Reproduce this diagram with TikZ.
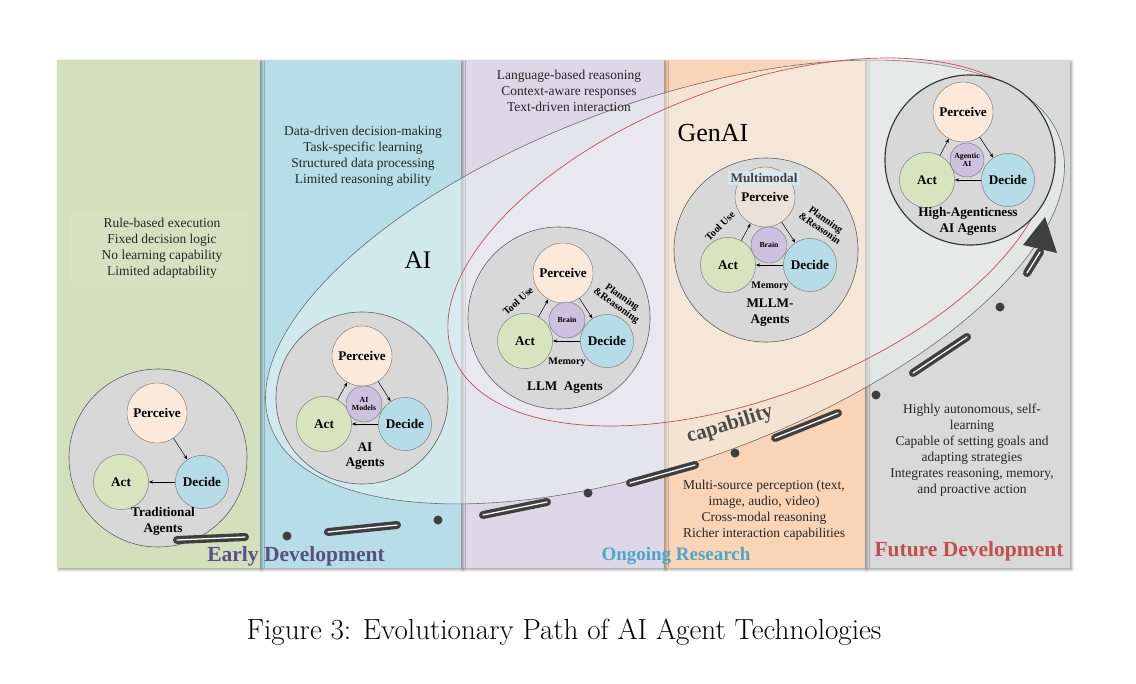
\documentclass[tikz,border=0pt]{standalone}
\usepackage{fontspec}
\newfontfamily\tnr{Liberation Serif}
\usetikzlibrary{arrows.meta,shadows.blur}

\definecolor{earlygreen}{HTML}{D4DFBC}
\definecolor{earlyblue}{HTML}{B7DEE8}
\definecolor{llmpurple}{HTML}{DDD7E7}
\definecolor{mllmorange}{HTML}{FAD4B6}
\definecolor{futuregrey}{HTML}{D9D9D9}
\definecolor{aifill}{HTML}{EEF7F4}
\definecolor{agentgrey}{HTML}{D8D8D8}
\definecolor{perceivecol}{HTML}{FDE9DA}
\definecolor{actcol}{HTML}{D7E4BD}
\definecolor{decidecol}{HTML}{B6DCE8}
\definecolor{braincol}{HTML}{CCC1DF}
\definecolor{modalblue}{HTML}{D4EDF5}
\definecolor{pathgrey}{HTML}{3F3F3F}
\definecolor{earlytxt}{HTML}{5A4E82}
\definecolor{ongoingtxt}{HTML}{4BA7C9}
\definecolor{futuretxt}{HTML}{C0504D}

\tikzset{
  panel/.style={blur shadow={shadow xshift=1.2pt, shadow yshift=-1.2pt, shadow blur radius=2pt, shadow opacity=40}},
  note/.style={align=center, text=black!85, font=\tnr\fontsize{9.6}{11.4}\selectfont},
  agentbg/.style={circle, draw=black!65, fill=agentgrey, line width=0.4pt, inner sep=0pt},
  stage/.style={circle, draw=black!55, line width=0.3pt, inner sep=0pt, font=\tnr\bfseries\fontsize{9.4}{10}\selectfont},
  perceive/.style={stage, fill=perceivecol, minimum size=1.5cm},
  act/.style={stage, fill=actcol, minimum size=1.38cm},
  decide/.style={stage, fill=decidecol, minimum size=1.33cm},
  core/.style={stage, fill=braincol, minimum size=0.9cm, align=center, font=\tnr\bfseries\fontsize{5.5}{6}\selectfont},
  agentname/.style={align=center, font=\tnr\bfseries\fontsize{9.4}{11.2}\selectfont},
  edgetxt/.style={align=center, inner sep=1pt, font=\tnr\bfseries\fontsize{7.2}{7.4}\selectfont},
  flow/.style={-{Stealth[length=3.2pt,width=2.4pt]}, line width=0.35pt},
  capdash/.style={draw=pathgrey, line width=2.4pt, double=white, double distance=0.9pt, line cap=round},
  era/.style={font=\tnr\bfseries\fontsize{15.3}{16}\selectfont},
}

\begin{document}
\begin{tikzpicture}[x=0.025cm, y=-0.025cm]
\useasboundingbox (0,0) rectangle (1136,683);

% columns (right to left, so every shadow falls on the next one)
\fill[panel, futuregrey] (865,60) rectangle (1070,568);
\fill[panel, mllmorange] (664,60) rectangle (865,568);
\fill[panel, llmpurple] (461,60) rectangle (664,568);
\fill[panel, earlyblue] (260,60) rectangle (461,568);
\fill[panel, earlygreen] (57,60) rectangle (260,568);

% AI and GenAI regions
\filldraw[rotate around={20:(665,282)}, fill=aifill, fill opacity=0.45, draw=black!60, line width=0.4pt]
  (665,282) ellipse [x radius=420, y radius=180];
\filldraw[rotate around={21:(749,242)}, fill=white, fill opacity=0.15, draw=futuretxt, line width=0.5pt]
  (749,242) ellipse [x radius=317, y radius=155];
\node[font=\tnr\fontsize{18}{20}\selectfont] (ai) at (418,260) {AI};
\node[font=\tnr\fontsize{18.5}{20}\selectfont] (genai) at (713,133) {GenAI};

% notes
\fill[white, opacity=0.08] (70,212) rectangle (247,287);
\node[note] (rules) at (162,248) {Rule-based execution\\Fixed decision logic\\No learning capability\\Limited adaptability};
\node[note] (data) at (363,156) {Data-driven decision-making\\Task-specific learning\\Structured data processing\\Limited reasoning ability};
\node[note] (lang) at (569,91) {Language-based reasoning\\Context-aware responses\\Text-driven interaction};
\node[note] (multi) at (764,510) {Multi-source perception (text,\\image, audio, video)\\Cross-modal reasoning\\Richer interaction capabilities};
\node[note] (auto) at (972,450) {Highly autonomous, self-\\learning\\Capable of setting goals and\\adapting strategies\\Integrates reasoning, memory,\\and proactive action};

% traditional agents
\node[agentbg, minimum size=4.45cm] (trad) at (158,458) {};
\node[perceive] (p1) at (157,413) {Perceive};
\node[act] (a1) at (121,482) {Act};
\node[decide] (d1) at (202,482) {Decide};
\node[agentname] (n1) at (163,521) {Traditional\\Agents};
\draw[flow] (p1) -- (d1);
\draw[flow] (d1) -- (a1);

% AI agents
\node[agentbg, minimum size=4.3cm] (aiag) at (362,398) {};
\node[perceive] (p2) at (362,356) {Perceive};
\node[act] (a2) at (324,424) {Act};
\node[decide] (d2) at (405,424) {Decide};
\node[core] (m2) at (364,404) {AI\\Models};
\node[agentname] (n2) at (365,456) {AI\\Agents};
\draw[flow] (a2) -- (p2);
\draw[flow] (p2) -- (d2);
\draw[flow] (d2) -- (a2);

% LLM agents
\node[agentbg, minimum size=4.55cm] (llm) at (559,318) {};
\node[perceive] (p3) at (563,273) {Perceive};
\node[act] (a3) at (525,341) {Act};
\node[decide] (d3) at (607,341) {Decide};
\node[core] (b3) at (567,320) {Brain};
\node[edgetxt, rotate=42] (tool3) at (518,301) {Tool Use};
\node[edgetxt, rotate=-35] (plan3) at (619,302) {Planning\\\&Reasoning};
\node[edgetxt] (mem3) at (567,362) {Memory};
\node[agentname] (n3) at (565,388) {LLM~~Agents};
\draw[flow] (a3) -- (p3);
\draw[flow] (p3) -- (d3);
\draw[flow] (d3) -- (a3);

% MLLM agents
\node[agentbg, minimum size=4.6cm] (mllm) at (766,250) {};
\node[perceive, fill opacity=0.55, text opacity=1] (p4) at (765,197) {Perceive};
\node[fill=modalblue, fill opacity=0.75, text opacity=1, text=black!75, inner sep=1.5pt,
  minimum width=1.8cm, font=\tnr\bfseries\fontsize{9.4}{10}\selectfont] (mm4) at (764,178) {Multimodal};
\node[act] (a4) at (728,265) {Act};
\node[decide] (d4) at (810,265) {Decide};
\node[core] (b4) at (769,245) {Brain};
\node[edgetxt, rotate=45] (tool4) at (720,226) {Tool Use};
\node[edgetxt, rotate=-35] (plan4) at (823,224) {Planning\\\&Reasonin};
\node[edgetxt] (mem4) at (770,286) {Memory};
\node[agentname] (n4) at (770,313) {MLLM-\\Agents};
\draw[flow] (a4) -- (p4);
\draw[flow] (p4) -- (d4);
\draw[flow] (d4) -- (a4);

% high-agenticness agents
\node[agentbg, minimum size=4.25cm, draw=black!80, line width=0.8pt] (high) at (970,160) {};
\node[perceive] (p5) at (963,112) {Perceive};
\node[act] (a5) at (927,180) {Act};
\node[decide] (d5) at (1008,180) {Decide};
\node[core, minimum size=0.85cm] (g5) at (967,160) {Agentic\\AI};
\node[agentname] (n5) at (968,221) {High-Agenticness\\AI Agents};
\draw[flow] (a5) -- (p5);
\draw[flow] (p5) -- (d5);
\draw[flow] (d5) -- (a5);

% capability path
\foreach \ax/\ay/\bx/\by in {177/540/245/537, 328/532/397/525, 483/515/547/502, 630/483/695/465,
    775/438/838/413, 913/373/967/337, 1027/273/1040/252}
  \draw[capdash] (\ax,\ay) -- (\bx,\by);
\foreach \cx/\cy in {287/536, 438/520, 588/493, 735/453, 876/395, 1000/307}
  \fill[pathgrey] (\cx,\cy) circle [radius=4.5];
\fill[pathgrey] (1045,217) -- (1023,245) -- (1057,253) -- cycle;
\node[font=\tnr\bfseries\fontsize{15}{16}\selectfont, text=black!70, rotate=17] (cap) at (730,425) {capability};

% eras
\node[era, text=earlytxt] (early) at (296,556) {Early Development};
\node[era, text=ongoingtxt, font=\tnr\bfseries\fontsize{13.5}{15}\selectfont] (ongoing) at (676,556) {Ongoing Research};
\node[era, text=futuretxt] (future) at (969,551) {Future Development};

% caption
\node[font=\fontsize{20.7}{24}\selectfont] (caption) at (564,632) {Figure 3: Evolutionary Path of AI Agent Technologies};
\end{tikzpicture}
\end{document}
